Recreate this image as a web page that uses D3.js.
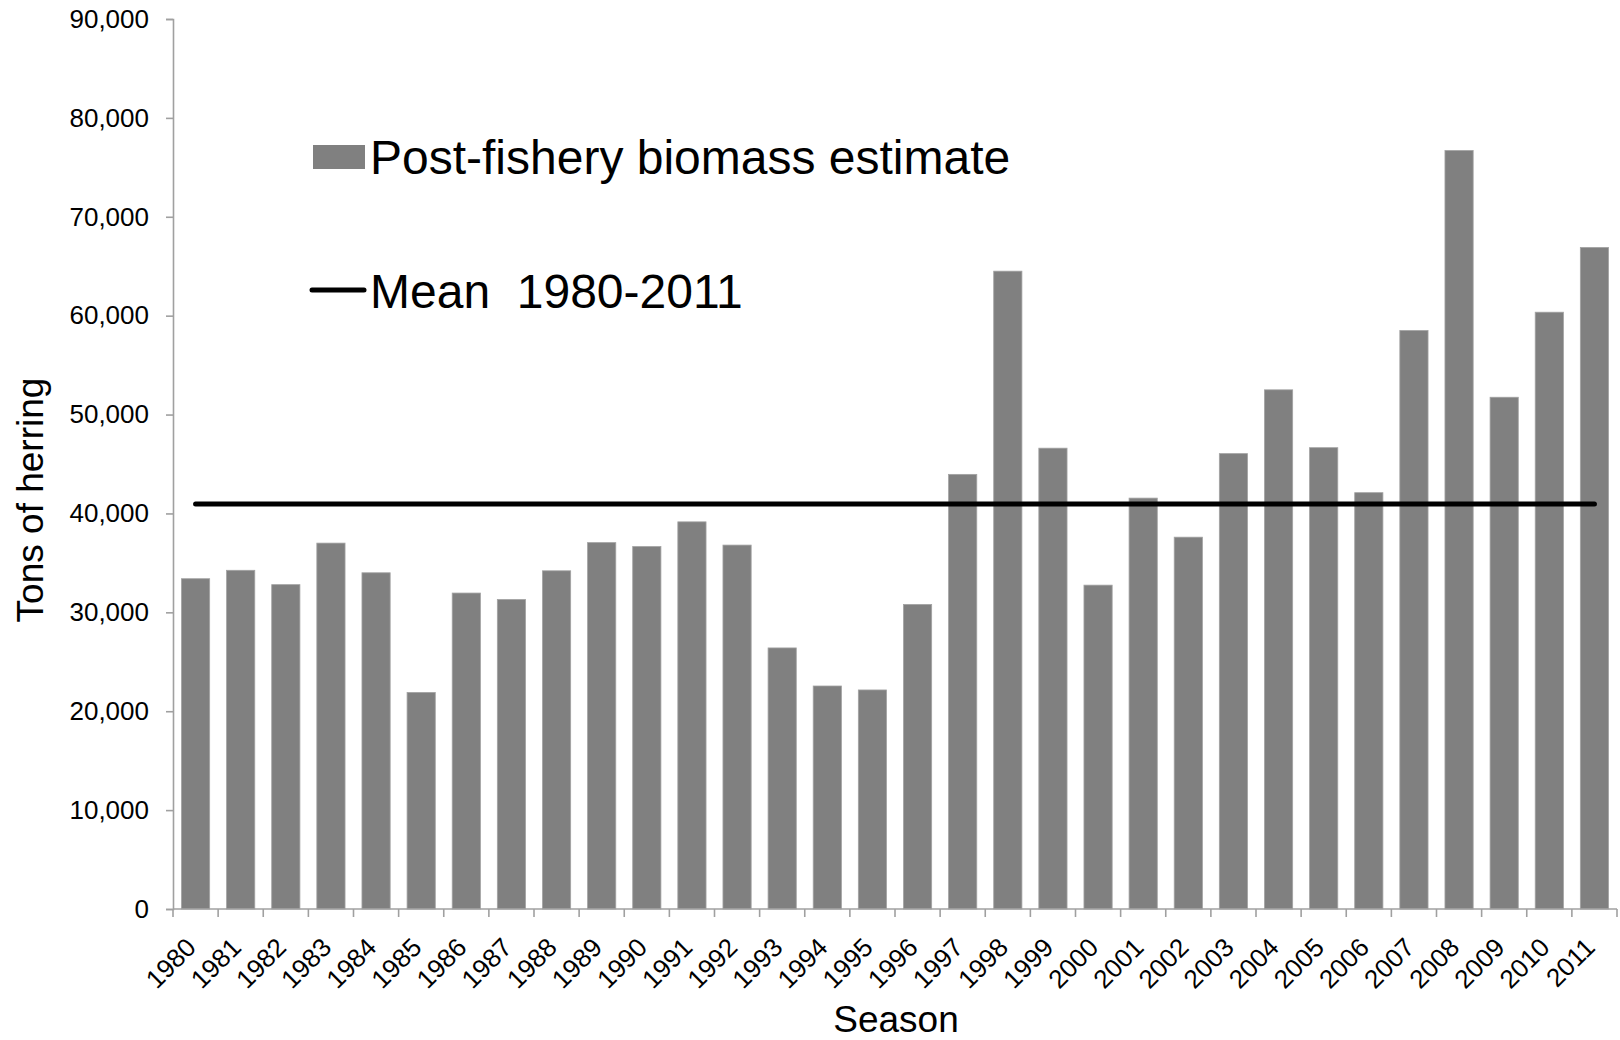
<!DOCTYPE html>
<html>
<head>
<meta charset="utf-8">
<script src="https://cdn.jsdelivr.net/npm/d3@7"></script>
<style>
  html, body { margin: 0; padding: 0; background: #fff; }
  svg { display: block; font-family: "Liberation Sans", Arial, sans-serif; }
</style>
</head>
<body>
<svg id="chart" width="1620" height="1040"></svg>
<script>
// Herring post-fishery biomass by season (tons)
const seasons = ["1980","1981","1982","1983","1984","1985","1986","1987","1988","1989",
                 "1990","1991","1992","1993","1994","1995","1996","1997","1998","1999",
                 "2000","2001","2002","2003","2004","2005","2006","2007","2008","2009",
                 "2010","2011"];
const biomass = [33400, 34250, 32800, 37000, 34000, 21900, 31950, 31300, 34200, 37050,
                 36650, 39150, 36800, 26400, 22550, 22150, 30800, 43950, 64500, 46600,
                 32750, 41550, 37600, 46050, 52500, 46650, 42100, 58500, 76700, 51750,
                 60350, 66900];
const yTicks = [0, 10000, 20000, 30000, 40000, 50000, 60000, 70000, 80000, 90000];
const legendLabels = ["Post-fishery biomass estimate", "Mean\u00a0\u00a01980-2011"];

const meanValue = d3.mean(biomass);

const svg = d3.select("#chart");
const margin = { left: 173, right: 3, top: 19, bottom: 131 };
const width = 1620, height = 1040;
const axisColor = "#a0a0a0";
const barColor = "#808080";

const x = d3.scaleBand()
  .domain(seasons)
  .range([margin.left, width - margin.right])
  .paddingInner(0.375)
  .paddingOuter(0.1875);

const y = d3.scaleLinear()
  .domain([0, 90000])
  .range([height - margin.bottom, margin.top]);

const fmt = d3.format(",");

// Bars
svg.append("g")
  .selectAll("rect")
  .data(biomass)
  .join("rect")
  .attr("x", (d, i) => x(seasons[i]))
  .attr("y", d => y(d))
  .attr("width", x.bandwidth())
  .attr("height", d => y(0) - y(d))
  .attr("fill", barColor)
  .attr("stroke", "#a2a2a2")
  .attr("stroke-width", 0.8);

// Y axis
const yAxis = svg.append("g")
  .attr("transform", `translate(${margin.left},0)`)
  .call(d3.axisLeft(y).tickValues(yTicks).tickFormat(fmt).tickSize(7).tickPadding(17));
yAxis.select(".domain").attr("stroke", axisColor).attr("stroke-width", 1.6);
yAxis.selectAll(".tick line").attr("stroke", axisColor).attr("stroke-width", 1.6);
yAxis.selectAll(".tick text")
  .attr("font-size", 26)
  .attr("fill", "#000")
  .attr("font-family", "Liberation Sans, Arial, sans-serif");

// X axis: ticks on category boundaries, rotated labels under bar centres
const xAxisG = svg.append("g").attr("transform", `translate(0,${y(0)})`);
xAxisG.append("line")
  .attr("x1", margin.left).attr("x2", width - margin.right)
  .attr("y1", 0).attr("y2", 0)
  .attr("stroke", axisColor).attr("stroke-width", 1.6);
const step = x.step();
const boundaries = d3.range(seasons.length + 1).map(i => x.range()[0] + i * step);
xAxisG.selectAll(".xtick")
  .data(boundaries)
  .join("line")
  .attr("class", "xtick")
  .attr("x1", d => d).attr("x2", d => d)
  .attr("y1", 0).attr("y2", 8)
  .attr("stroke", axisColor).attr("stroke-width", 1.6);
xAxisG.selectAll(".xlabel")
  .data(seasons)
  .join("text")
  .attr("class", "xlabel")
  .attr("text-anchor", "end")
  .attr("font-size", 26)
  .attr("fill", "#000")
  .attr("transform", d => `translate(${x(d) + x.bandwidth() / 2 + 2},40) rotate(-45)`)
  .text(d => d);

// Mean line across the bar centres
svg.append("line")
  .attr("x1", x(seasons[0]) + x.bandwidth() / 2)
  .attr("x2", x(seasons[seasons.length - 1]) + x.bandwidth() / 2)
  .attr("y1", y(meanValue))
  .attr("y2", y(meanValue))
  .attr("stroke", "#000")
  .attr("stroke-width", 5)
  .attr("stroke-linecap", "round");

// Axis titles
svg.append("text")
  .attr("transform", "translate(43,500) rotate(-90)")
  .attr("text-anchor", "middle")
  .attr("font-size", 37)
  .attr("fill", "#000")
  .text("Tons of herring");

svg.append("text")
  .attr("x", 896)
  .attr("y", 1032)
  .attr("text-anchor", "middle")
  .attr("font-size", 37)
  .attr("fill", "#000")
  .text("Season");

// Legend
const legend = svg.append("g");
legend.append("rect")
  .attr("x", 313).attr("y", 145)
  .attr("width", 52).attr("height", 24)
  .attr("fill", barColor);
legend.append("text")
  .attr("x", 370).attr("y", 174)
  .attr("font-size", 48)
  .attr("fill", "#000")
  .text(legendLabels[0]);
legend.append("line")
  .attr("x1", 312).attr("x2", 364)
  .attr("y1", 290).attr("y2", 290)
  .attr("stroke", "#000")
  .attr("stroke-width", 5)
  .attr("stroke-linecap", "round");
legend.append("text")
  .attr("x", 370).attr("y", 308)
  .attr("font-size", 48)
  .attr("fill", "#000")
  .text(legendLabels[1]);
</script>
</body>
</html>
